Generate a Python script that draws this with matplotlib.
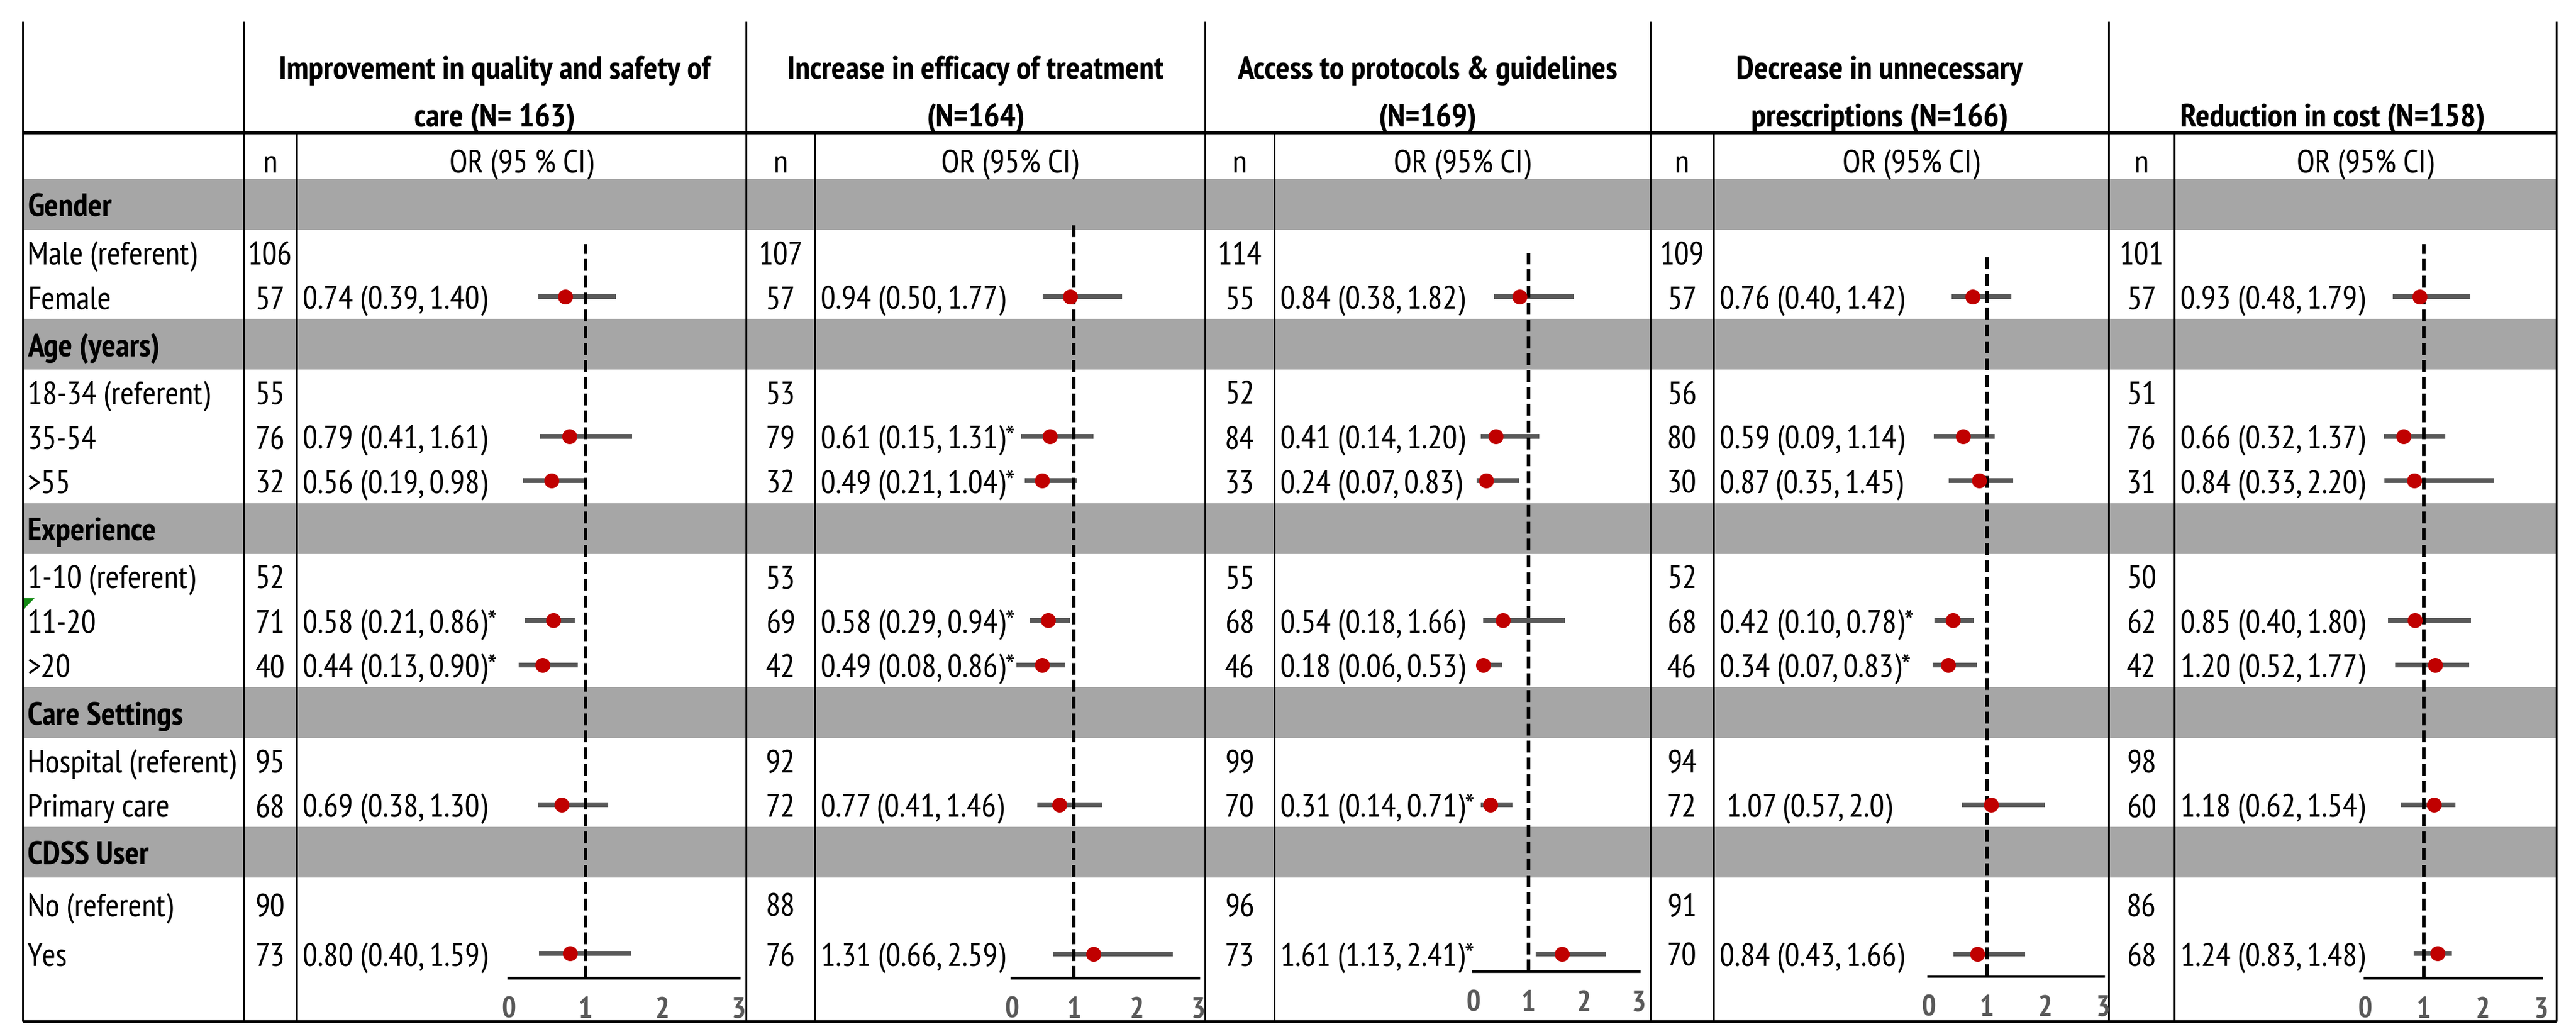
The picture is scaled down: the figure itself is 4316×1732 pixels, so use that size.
import matplotlib
matplotlib.use("Agg")
import matplotlib.pyplot as plt
from matplotlib import font_manager
from matplotlib.font_manager import FontProperties
from matplotlib.textpath import TextPath
from matplotlib.patches import Rectangle, Polygon

# ---------------- data ----------------
titles = ["Improvement in quality and safety of\ncare (N= 163)",
          "Increase in efficacy of treatment\n(N=164)",
          "Access to protocols & guidelines\n(N=169)",
          "Decrease in unnecessary\nprescriptions (N=166)",
          "Reduction in cost (N=158)"]
ci_headers = ["OR (95 % CI)", "OR (95% CI)", "OR (95% CI)", "OR (95% CI)", "OR (95% CI)"]

groups = ["Gender", "Age (years)", "Experience", "Care Settings", "CDSS User"]
levels = [["Male (referent)", "Female"],
          ["18-34 (referent)", "35-54", ">55"],
          ["1-10 (referent)", "11-20", ">20"],
          ["Hospital (referent)", "Primary care"],
          ["No (referent)", "Yes"]]

# one entry per level row, in table order (None = referent)
n_quality = [106, 57, 55, 76, 32, 52, 71, 40, 95, 68, 90, 73]
or_quality = [None, 0.74, None, 0.79, 0.56, None, 0.58, 0.44, None, 0.69, None, 0.80]
lo_quality = [None, 0.39, None, 0.41, 0.19, None, 0.21, 0.13, None, 0.38, None, 0.40]
hi_quality = [None, 1.40, None, 1.61, 0.98, None, 0.86, 0.90, None, 1.30, None, 1.59]
txt_quality = ["", "0.74 (0.39, 1.40)", "", "0.79 (0.41, 1.61)", "0.56 (0.19, 0.98)", "",
               "0.58 (0.21, 0.86)*", "0.44 (0.13, 0.90)*", "", "0.69 (0.38, 1.30)", "", "0.80 (0.40, 1.59)"]

n_efficacy = [107, 57, 53, 79, 32, 53, 69, 42, 92, 72, 88, 76]
or_efficacy = [None, 0.94, None, 0.61, 0.49, None, 0.58, 0.49, None, 0.77, None, 1.31]
lo_efficacy = [None, 0.50, None, 0.15, 0.21, None, 0.29, 0.08, None, 0.41, None, 0.66]
hi_efficacy = [None, 1.77, None, 1.31, 1.04, None, 0.94, 0.86, None, 1.46, None, 2.59]
txt_efficacy = ["", "0.94 (0.50, 1.77)", "", "0.61 (0.15, 1.31)*", "0.49 (0.21, 1.04)*", "",
                "0.58 (0.29, 0.94)*", "0.49 (0.08, 0.86)*", "", "0.77 (0.41, 1.46)", "", "1.31 (0.66, 2.59)"]

n_protocols = [114, 55, 52, 84, 33, 55, 68, 46, 99, 70, 96, 73]
or_protocols = [None, 0.84, None, 0.41, 0.24, None, 0.54, 0.18, None, 0.31, None, 1.61]
lo_protocols = [None, 0.38, None, 0.14, 0.07, None, 0.18, 0.06, None, 0.14, None, 1.13]
hi_protocols = [None, 1.82, None, 1.20, 0.83, None, 1.66, 0.53, None, 0.71, None, 2.41]
txt_protocols = ["", "0.84 (0.38, 1.82)", "", "0.41 (0.14, 1.20)", "0.24 (0.07, 0.83)", "",
                 "0.54 (0.18, 1.66)", "0.18 (0.06, 0.53)", "", "0.31 (0.14, 0.71)*", "", "1.61 (1.13, 2.41)*"]

n_prescr = [109, 57, 56, 80, 30, 52, 68, 46, 94, 72, 91, 70]
or_prescr = [None, 0.76, None, 0.59, 0.87, None, 0.42, 0.34, None, 1.07, None, 0.84]
lo_prescr = [None, 0.40, None, 0.09, 0.35, None, 0.10, 0.07, None, 0.57, None, 0.43]
hi_prescr = [None, 1.42, None, 1.14, 1.45, None, 0.78, 0.83, None, 2.0, None, 1.66]
txt_prescr = ["", "0.76 (0.40, 1.42)", "", "0.59 (0.09, 1.14)", "0.87 (0.35, 1.45)", "",
              "0.42 (0.10, 0.78)*", "0.34 (0.07, 0.83)*", "", " 1.07 (0.57, 2.0)", "", "0.84 (0.43, 1.66)"]

n_cost = [101, 57, 51, 76, 31, 50, 62, 42, 98, 60, 86, 68]
or_cost = [None, 0.93, None, 0.66, 0.84, None, 0.85, 1.20, None, 1.18, None, 1.24]
lo_cost = [None, 0.48, None, 0.32, 0.33, None, 0.40, 0.52, None, 0.62, None, 0.83]
hi_cost = [None, 1.79, None, 1.37, 2.20, None, 1.80, 1.77, None, 1.54, None, 1.48]
txt_cost = ["", "0.93 (0.48, 1.79)", "", "0.66 (0.32, 1.37)", "0.84 (0.33, 2.20)", "",
            "0.85 (0.40, 1.80)", "1.20 (0.52, 1.77)", "", "1.18 (0.62, 1.54)", "", "1.24 (0.83, 1.48)"]

tick_values = [0, 1, 2, 3]
tick_labels = ["0", "1", "2", "3"]

panels = [
    (n_quality, or_quality, lo_quality, hi_quality, txt_quality),
    (n_efficacy, or_efficacy, lo_efficacy, hi_efficacy, txt_efficacy),
    (n_protocols, or_protocols, lo_protocols, hi_protocols, txt_protocols),
    (n_prescr, or_prescr, lo_prescr, hi_prescr, txt_prescr),
    (n_cost, or_cost, lo_cost, hi_cost, txt_cost),
]

# ---------------- fonts ----------------
W, H, DPI = 4316, 1733, 100
PT = DPI / 72.0


def weight_num(w):
    return w if isinstance(w, int) else font_manager.weight_dict.get(w, 400)


# the original table is set in Arial Narrow: look for a narrow/condensed
# family that has both a regular and a bold face
faces = {}
for f in font_manager.fontManager.ttflist:
    faces.setdefault((f.name, str(f.stretch)), set()).add(weight_num(f.weight))


def narrow_rank(name, stretch):
    n, s = name.lower(), stretch.lower()
    cond = "condensed" in n or "condensed" in s
    odd = any(k in n or k in s for k in ("semi", "extra", "ultra"))
    if "narrow" in n:
        return 0
    if cond and not odd and "roboto" in n:
        return 1
    if cond and not odd and ("liberation" in n or "noto sans" in n or "open sans" in n):
        return 2
    if cond and not odd:
        return 3
    return None


ranked = []
for (name, stretch), ws in faces.items():
    r = narrow_rank(name, stretch)
    if r is not None and 400 in ws and any(w >= 600 for w in ws):
        ranked.append((r, name, stretch))
ranked.sort()
if ranked:
    FONT, STRETCH = ranked[0][1], ranked[0][2]
else:
    FONT, STRETCH = "Liberation Sans", "normal"
plt.rcParams["font.family"] = [FONT, "DejaVu Sans"]
plt.rcParams["font.stretch"] = STRETCH

# size the text so it matches the original cell text (cap height ~39 px, label width ~345 px)
fp = FontProperties(family=FONT, stretch=STRETCH)
CAP = TextPath((0, 0), "H", size=100, prop=fp).get_extents().height / 100.0
WIDE = TextPath((0, 0), "Hospital (referent)", size=100, prop=fp).get_extents().width / 100.0
FS = min(39.0 / (CAP * PT), 345.0 / (WIDE * PT))
TFS = 35.0 / (CAP * PT)

# ---------------- layout (pixels) ----------------
X_LEFT, X_LABEL, X_RIGHT = 38, 408, 4283
panel_edges = [408, 1250, 2019, 2765, 3533, 4283]
n_edges = [497, 1365, 2135, 2871, 3643]
Y_TOP, Y_RULE, Y_SUB, Y_BOTTOM = 37, 223, 301, 1712
BAND_H, ROW_H = 85, 74.5
LAST_ROWS = [89, 77]
# forest inset: x at OR=0, x at OR=3, top of reference line, axis line y
forest = [(852, 1238, 410, 1639), (1695, 2008, 377, 1639), (2468, 2746, 425, 1628),
          (3231, 3524, 428, 1636), (3962, 4258, 410, 1639)]

GRAY_BAND = "#A6A6A6"
BAR_GRAY = "#595959"
RED = "#C00000"


def baseline(yc, size=FS):
    # put the cap-height centre of the text at yc
    return yc + CAP * size * PT / 2


bands = []
rows = []
y = Y_SUB
for gi, (g, levs) in enumerate(zip(groups, levels)):
    bands.append((g, y))
    y += BAND_H
    for li, lab in enumerate(levs):
        h = ROW_H if gi < len(groups) - 1 else LAST_ROWS[li]
        rows.append((lab, y, y + h / 2))
        y += h

fig = plt.figure(figsize=(W / DPI, H / DPI), dpi=DPI)
ax = fig.add_axes([0, 0, 1, 1])
ax.set_xlim(0, W)
ax.set_ylim(H, 0)
ax.axis("off")

# grey group bands
for g, yb in bands:
    ax.add_patch(Rectangle((X_LEFT, yb), X_RIGHT - X_LEFT, BAND_H,
                           facecolor=GRAY_BAND, edgecolor="none", zorder=1))
    ax.text(X_LEFT + 8, baseline(yb + BAND_H / 2), g, fontsize=FS,
            fontweight="bold", va="baseline", ha="left", zorder=3)

# grid lines
vthin = 3 / PT
for xv in [X_LEFT, X_LABEL] + panel_edges[1:]:
    ax.vlines(xv, Y_TOP, Y_BOTTOM, color="black", lw=vthin, zorder=2)
ax.vlines(n_edges, Y_RULE, Y_BOTTOM, color="black", lw=vthin, zorder=2)
ax.hlines([Y_RULE, Y_BOTTOM], X_LEFT, X_RIGHT, color="black", lw=5 / PT, zorder=2)

# row labels
for lab, ytop, yc in rows:
    ax.text(X_LEFT + 8, baseline(yc), lab, fontsize=FS, va="baseline", ha="left", zorder=3)

# comment marker in the "11-20" cell
ytop_1120 = rows[6][1]
ax.add_patch(Polygon([(X_LEFT + 2, ytop_1120), (X_LEFT + 20, ytop_1120), (X_LEFT + 2, ytop_1120 + 18)],
                     closed=True, facecolor="#138A13", edgecolor="none", zorder=3))

# panel headers and cell texts
for p, (n_vals, or_vals, lo_vals, hi_vals, txts) in enumerate(panels):
    xl, xr = panel_edges[p], panel_edges[p + 1]
    xn = n_edges[p]
    lines = titles[p].split("\n")
    ys = [113, 193][-len(lines):]
    for line, yl in zip(lines, ys):
        ax.text((xl + xr) / 2, baseline(yl), line, fontsize=FS, fontweight="bold",
                ha="center", va="baseline")
    ax.text((xl + xn) / 2, baseline(270), "n", fontsize=FS, ha="center", va="baseline")
    ax.text((xn + xr) / 2, baseline(270), ci_headers[p], fontsize=FS, ha="center", va="baseline")
    for (lab, ytop, yc), n, t in zip(rows, n_vals, txts):
        ax.text((xl + xn) / 2, baseline(yc), str(n), fontsize=FS, ha="center", va="baseline", zorder=3)
        if t:
            ax.text(xn + 10, baseline(yc), t, fontsize=FS, ha="left", va="baseline", zorder=3)

# forest plots
for p, (n_vals, or_vals, lo_vals, hi_vals, txts) in enumerate(panels):
    x0, x3, ytop, yaxis = forest[p]
    fa = fig.add_axes([x0 / W, 1 - yaxis / H, (x3 - x0) / W, (yaxis - ytop) / H])
    fa.set_xlim(0, 3)
    fa.set_ylim(yaxis, ytop)
    fa.patch.set_alpha(0)
    for s in ("top", "right", "left"):
        fa.spines[s].set_visible(False)
    fa.spines["bottom"].set_linewidth(4.5 / PT)
    fa.set_yticks([])
    fa.set_xticks(tick_values)
    fa.set_xticklabels(tick_labels, fontweight="bold")
    fa.tick_params(axis="x", length=0, pad=22, labelsize=TFS, labelcolor=BAR_GRAY)

    ys = [yc for (lab, yt, yc), v in zip(rows, or_vals) if v is not None]
    ors = [v for v in or_vals if v is not None]
    los = [v for v in lo_vals if v is not None]
    his = [v for v in hi_vals if v is not None]
    fa.hlines(ys, los, his, color=BAR_GRAY, lw=8 / PT, zorder=2, clip_on=False)
    fa.axvline(1, color="black", lw=6 / PT, dashes=(3.3, 1.4), zorder=3)
    fa.plot(ors, ys, "o", ms=25 / PT, color=RED, mec="none", zorder=4, clip_on=False)

fig.savefig("out.png", dpi=DPI)
plt.close(fig)
